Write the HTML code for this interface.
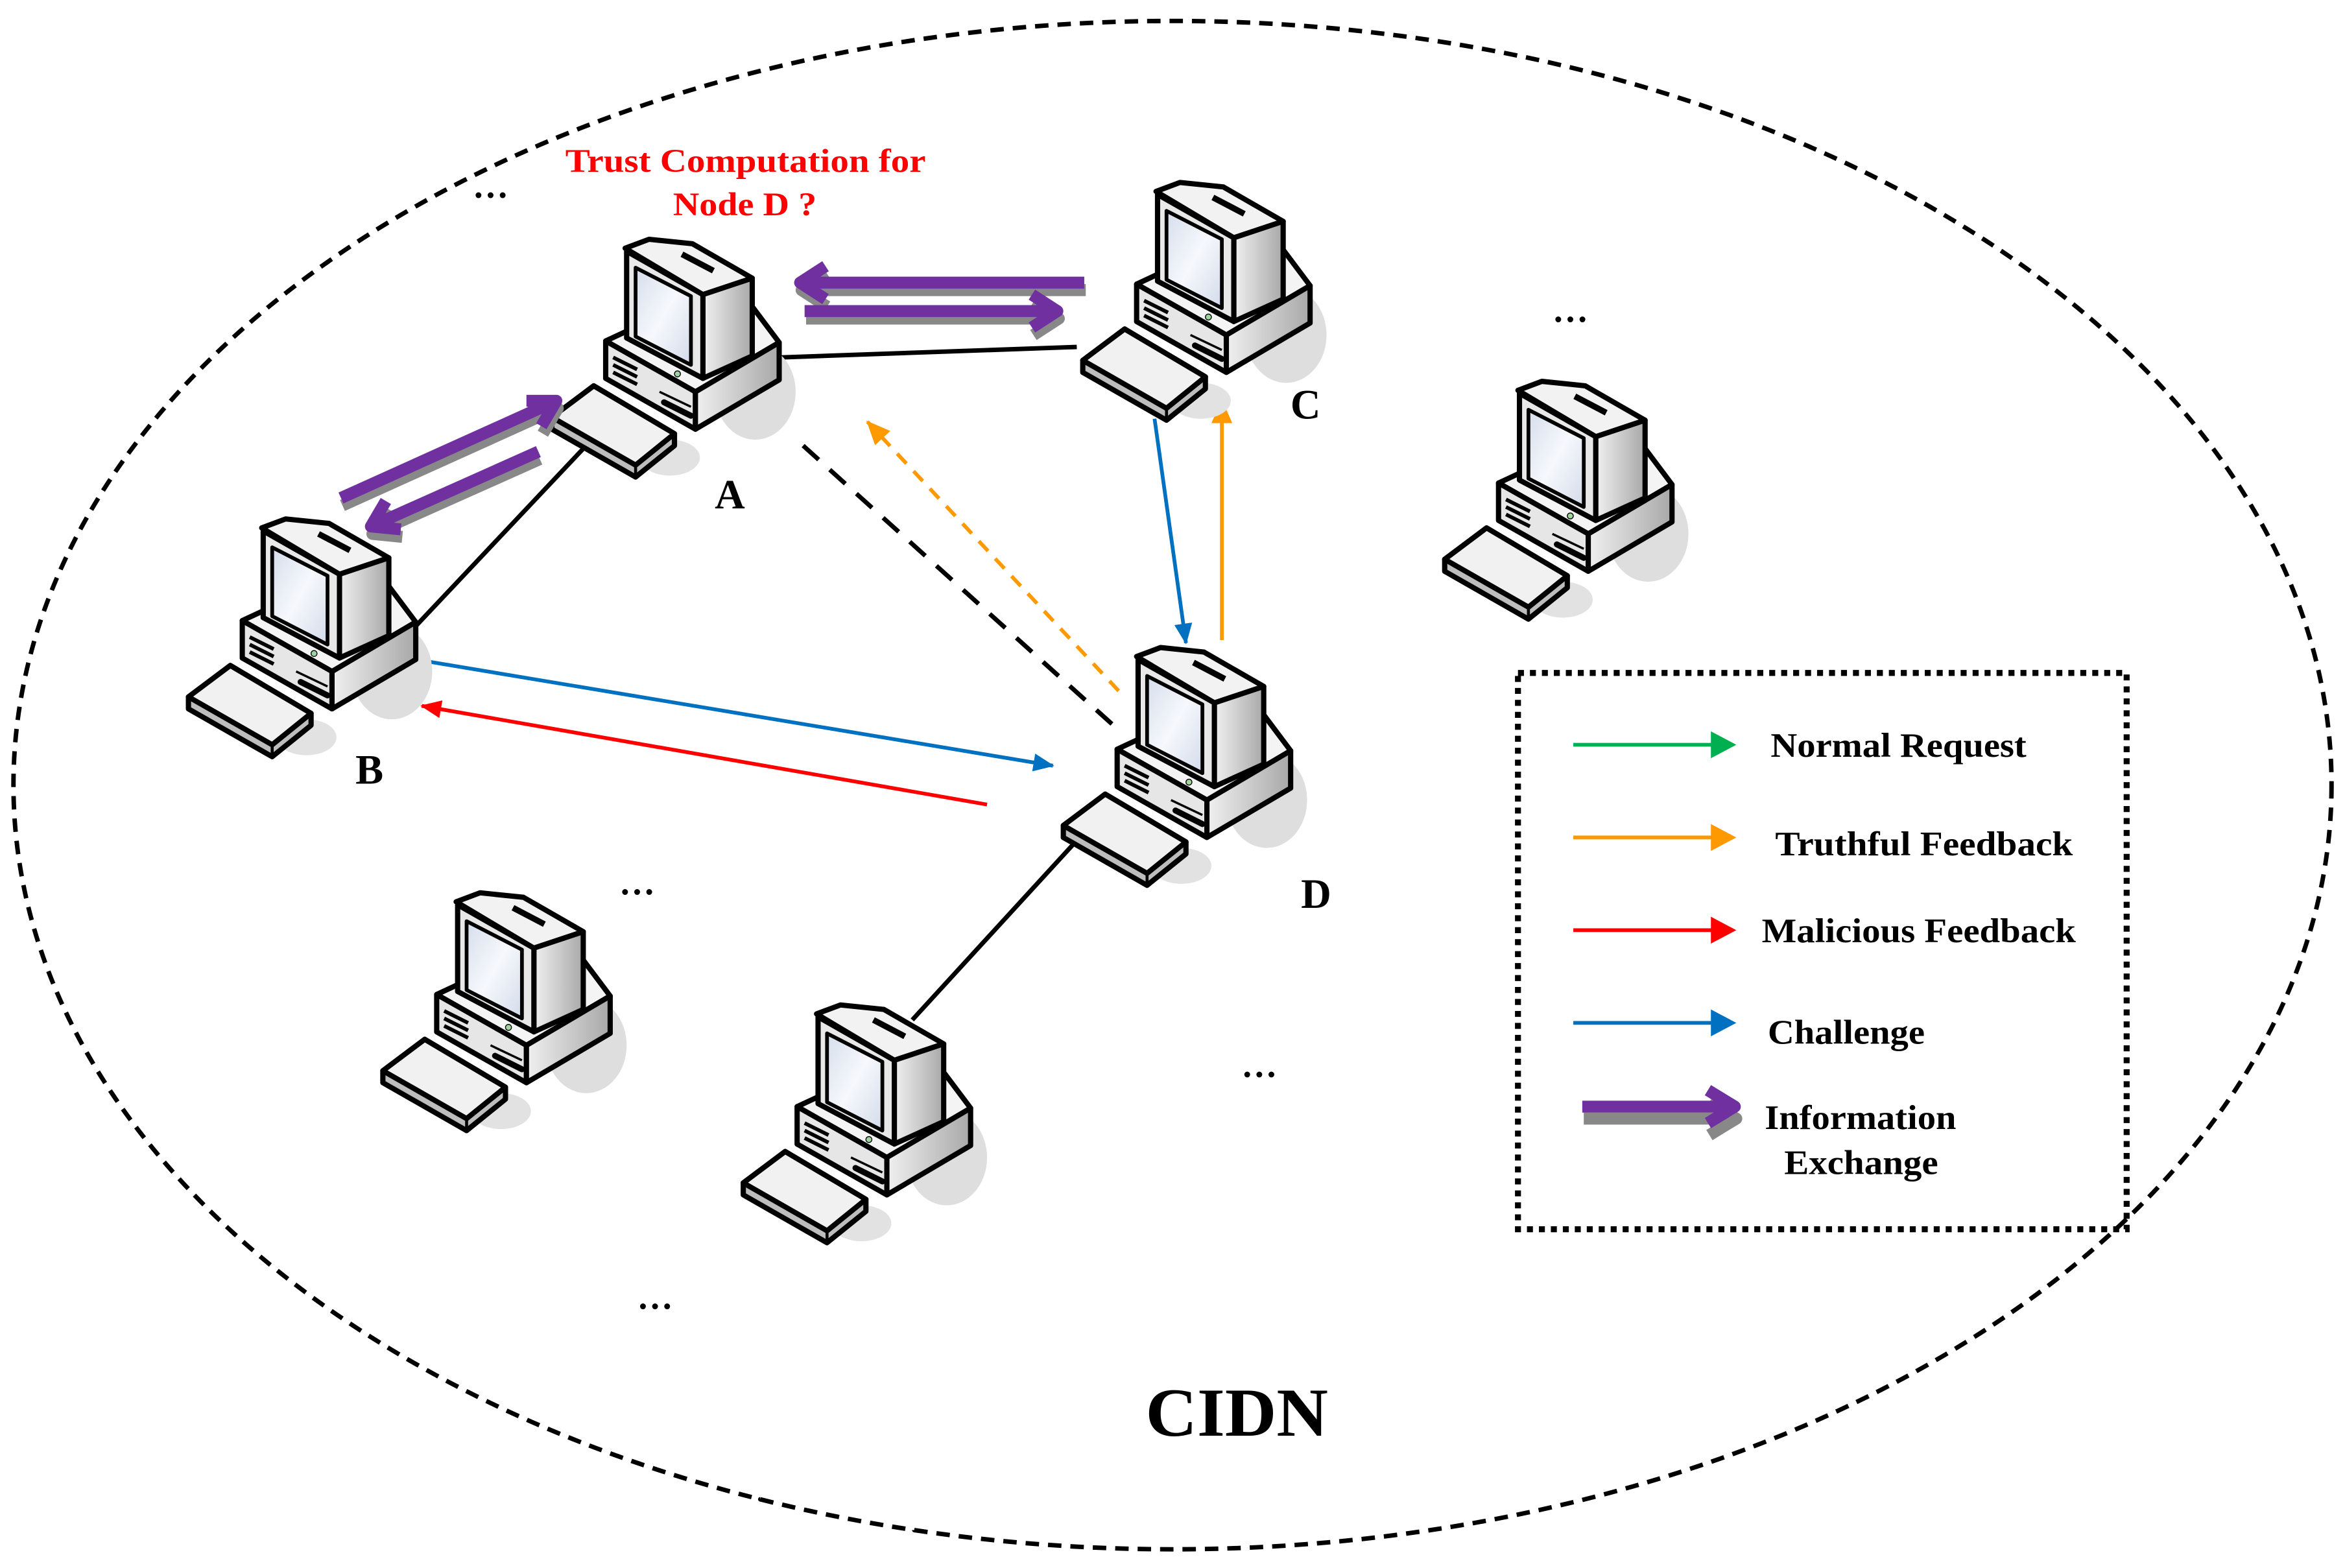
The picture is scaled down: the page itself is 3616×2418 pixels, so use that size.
<!DOCTYPE html>
<html><head><meta charset="utf-8"><style>
html,body{margin:0;padding:0;background:#fff;}
svg{display:block;}
text{font-family:"Liberation Serif",serif;font-weight:bold;}
</style></head><body>
<svg width="3616" height="2418" viewBox="0 0 1568 1048.5" xmlns="http://www.w3.org/2000/svg">
<defs>
<linearGradient id="scr" x1="0" y1="0" x2="1" y2="1"><stop offset="0" stop-color="#d6deec"/><stop offset="0.5" stop-color="#f6f8fc"/><stop offset="1" stop-color="#d3dbea"/></linearGradient>
<linearGradient id="side" x1="0" y1="0" x2="1" y2="0"><stop offset="0" stop-color="#f0f0f0"/><stop offset="1" stop-color="#a8a8a8"/></linearGradient>
<g id="pc" stroke="#000" stroke-linejoin="round">
  <ellipse cx="505" cy="262" rx="27" ry="32" fill="#dedede" stroke="none"/>
  <ellipse cx="448" cy="306" rx="20" ry="12" fill="#e2e2e2" stroke="none"/>
  <polygon points="405,228 420,221 503,205 521,229 465,262" fill="#f4f4f4" stroke-width="3.5"/>
  <polygon points="405,228 465,262 465,287 405,253" fill="#e6e6e6" stroke-width="3.5"/>
  <polygon points="465,262 521,229 521,254 465,287" fill="url(#side)" stroke-width="3.5"/>
  <g stroke-width="2.5"><line x1="410" y1="239" x2="426" y2="247"/><line x1="410" y1="244" x2="426" y2="252"/><line x1="410" y1="249" x2="426" y2="257"/></g>
  <line x1="444" y1="269" x2="462" y2="278" stroke-width="4" stroke-linecap="round"/>
  <line x1="441" y1="262" x2="462" y2="272" stroke-width="1.5"/>
  <polygon points="418,166 434,160 463,163 503,186 470,197" fill="#f2f2f2" stroke-width="3.5"/>
  <polygon points="470,197 503,186 503,238 470,253" fill="url(#side)" stroke-width="3.5"/>
  <polygon points="419,168 470,197 470,253 419,226" fill="#e8e8e8" stroke-width="3.5"/>
  <polygon points="425,179 462,198 462,244 425,225" fill="url(#scr)" stroke-width="2.5"/>
  <circle cx="453" cy="250" r="2" fill="#9ed49e" stroke-width="0.6"/>
  <line x1="456" y1="170" x2="477" y2="181" stroke-width="4"/>
  <polygon points="369,279 397,258 451,290 451,298 425,319 369,287" fill="#bdbdbd" stroke-width="3.5"/>
  <polygon points="369,279 397,258 451,290 425,311" fill="#f1f1f1" stroke-width="3.5"/>
  <line x1="425" y1="311" x2="425" y2="319" stroke-width="2"/>
</g>
<marker id="mb" markerWidth="14" markerHeight="12" refX="13" refY="6" orient="auto" markerUnits="userSpaceOnUse"><path d="M0,0L14,6L0,12z" fill="#0070c0"/></marker>
<marker id="mr" markerWidth="14" markerHeight="12" refX="13" refY="6" orient="auto" markerUnits="userSpaceOnUse"><path d="M0,0L14,6L0,12z" fill="#ff0000"/></marker>
<marker id="mo" markerWidth="16" markerHeight="14" refX="15" refY="7" orient="auto" markerUnits="userSpaceOnUse"><path d="M0,0L16,7L0,14z" fill="#ff9900"/></marker>
</defs>

<ellipse cx="784" cy="525" rx="775" ry="511" fill="none" stroke="#000" stroke-width="3" stroke-dasharray="9,6"/>

<g stroke="#000" stroke-width="3">
<line x1="522" y1="239" x2="720" y2="232"/>
<line x1="390" y1="300" x2="272" y2="425"/>
<line x1="720" y1="562" x2="610" y2="682"/>
<line x1="537" y1="298" x2="750" y2="490" stroke-dasharray="14,10"/>
</g>
<line x1="748" y1="462" x2="580" y2="282" stroke="#ff9900" stroke-width="2.5" stroke-dasharray="9,7" marker-end="url(#mo)"/>
<line x1="817" y1="428" x2="817" y2="268" stroke="#ff9900" stroke-width="2.5" marker-end="url(#mo)"/>
<line x1="772" y1="280" x2="793" y2="430" stroke="#0070c0" stroke-width="2.5" marker-end="url(#mb)"/>
<line x1="272" y1="440" x2="704" y2="512" stroke="#0070c0" stroke-width="2.5" marker-end="url(#mb)"/>
<line x1="660" y1="538" x2="282" y2="472" stroke="#ff0000" stroke-width="2.5" marker-end="url(#mr)"/>

<use href="#pc"/>
<use href="#pc" transform="translate(355,-38)"/>
<use href="#pc" transform="translate(-243,187)"/>
<use href="#pc" transform="translate(342,273)"/>
<use href="#pc" transform="translate(597,95)"/>
<use href="#pc" transform="translate(-113,437)"/>
<use href="#pc" transform="translate(128,512)"/>

<g fill="none" stroke-width="8" stroke-linecap="butt" stroke-linejoin="round">
<g stroke="#888" transform="translate(1,5)">
 <path d="M725,189 H535 M552,178 L535,189 L552,200"/>
 <path d="M538,208 H707 M690,197 L707,208 L690,219"/>
 <path d="M228,333 L372,268 M352,268 L372,268 L362,285"/>
 <path d="M360,302 L248,352 M258,335 L248,352 L268,354"/>
 <path d="M1058,743 H1160 M1142,732 L1160,743 L1142,754"/>
</g>
<g stroke="#7030a0">
 <path d="M725,189 H535 M552,178 L535,189 L552,200"/>
 <path d="M538,208 H707 M690,197 L707,208 L690,219"/>
 <path d="M228,333 L372,268 M352,268 L372,268 L362,285"/>
 <path d="M360,302 L248,352 M258,335 L248,352 L268,354"/>
 <path d="M1058,740 H1160 M1142,729 L1160,740 L1142,751"/>
</g>
</g>

<rect x="1015" y="450" width="407" height="372" fill="none" stroke="#000" stroke-width="4" stroke-dasharray="4,4"/>
<line x1="1052" y1="498" x2="1145" y2="498" stroke="#00b050" stroke-width="2.5"/><path d="M1144,489L1161,498L1144,507z" fill="#00b050"/>
<line x1="1052" y1="560" x2="1145" y2="560" stroke="#ff9900" stroke-width="2.5"/><path d="M1144,551L1161,560L1144,569z" fill="#ff9900"/>
<line x1="1052" y1="622" x2="1145" y2="622" stroke="#ff0000" stroke-width="2.5"/><path d="M1144,613L1161,622L1144,631z" fill="#ff0000"/>
<line x1="1052" y1="684" x2="1145" y2="684" stroke="#0070c0" stroke-width="2.5"/><path d="M1144,675L1161,684L1144,693z" fill="#0070c0"/>
<g font-size="23" fill="#000">
<text x="1184" y="506" textLength="171" lengthAdjust="spacingAndGlyphs">Normal Request</text>
<text x="1187" y="572" textLength="199" lengthAdjust="spacingAndGlyphs">Truthful Feedback</text>
<text x="1178" y="630" textLength="210" lengthAdjust="spacingAndGlyphs">Malicious Feedback</text>
<text x="1182" y="698" textLength="105" lengthAdjust="spacingAndGlyphs">Challenge</text>
<text x="1180" y="755" textLength="128" lengthAdjust="spacingAndGlyphs">Information</text>
<text x="1193" y="785" textLength="103" lengthAdjust="spacingAndGlyphs">Exchange</text>
</g>

<g fill="#ff0000" font-size="22">
<text x="378" y="115" textLength="241" lengthAdjust="spacingAndGlyphs">Trust Computation for</text>
<text x="450" y="144" textLength="96" lengthAdjust="spacingAndGlyphs">Node D ?</text>
</g>
<g font-size="28" fill="#000" text-anchor="middle">
<text x="488" y="340">A</text>
<text x="247" y="524">B</text>
<text x="873" y="280">C</text>
<text x="880" y="607">D</text>
</g>
<g font-size="24" fill="#000" text-anchor="middle">
<text x="328" y="132">…</text>
<text x="1050" y="215">…</text>
<text x="426" y="598">…</text>
<text x="842" y="720">…</text>
<text x="438" y="875">…</text>
</g>
<text x="827" y="960" font-size="46" text-anchor="middle" fill="#000" textLength="122" lengthAdjust="spacingAndGlyphs">CIDN</text>
</svg>
</body></html>
